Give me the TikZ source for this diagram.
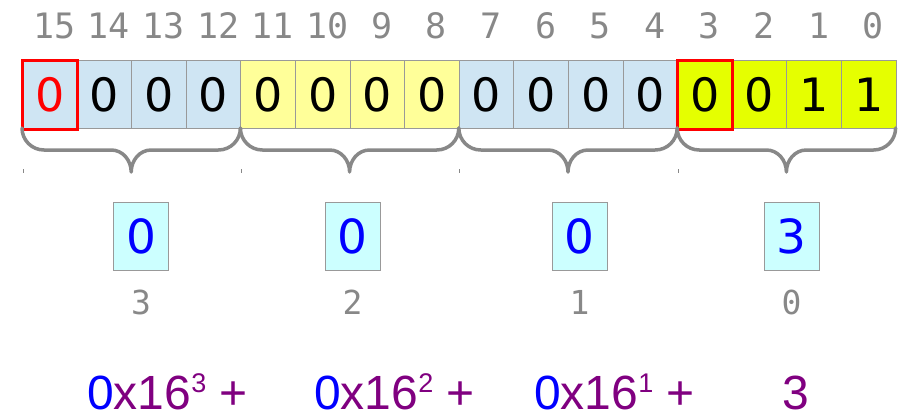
\documentclass[tikz,border=0pt]{standalone}
\usepackage{fontspec}
\setmainfont{Liberation Sans}
\newfontfamily\monofnt{DejaVu Sans Mono}
\newfontfamily\dvfnt{DejaVu Sans}
\definecolor{cellblue}{HTML}{CFE5F3}
\definecolor{cellyel}{HTML}{FFFF99}
\definecolor{cellgrn}{HTML}{E5FF00}
\definecolor{hexbox}{HTML}{CCFFFF}
\definecolor{lblgray}{HTML}{888888}
\definecolor{bordergray}{HTML}{999999}
\definecolor{purp}{HTML}{800080}
\tikzset{
  cellbox/.style={draw=bordergray, line width=1pt, minimum width=54.6pt, minimum height=68pt, inner sep=0pt, anchor=north west,
    font=\dvfnt\fontsize{46}{50}\selectfont},
  bitnum/.style={text=lblgray, inner sep=0pt, anchor=base, font=\monofnt\fontsize{35}{40}\selectfont},
  hexcell/.style={draw=bordergray, line width=1pt, fill=hexbox, minimum width=55pt, minimum height=68pt, inner sep=0pt,
    text=blue, font=\dvfnt\fontsize{47}{50}\selectfont},
  poslbl/.style={text=lblgray, inner sep=0pt, anchor=base, font=\monofnt\fontsize{33}{40}\selectfont},
  formula/.style={text=purp, inner sep=0pt, anchor=base west, font=\fontsize{48}{56}\selectfont},
  redmark/.style={draw=red, line width=3pt},
  bracepath/.style={draw=lblgray, line width=3.5pt, line cap=round, line join=round},
  tickmark/.style={draw=lblgray, line width=1pt}
}
\newcommand{\supthree}[1]{\raisebox{17pt}{\fontsize{27}{30}\selectfont #1}}
\begin{document}
\begin{tikzpicture}[x=1pt,y=-1pt]
\useasboundingbox (0,0) rectangle (910,415);
% cells
\foreach \i/\v/\c/\t in {0/0/cellblue/red,1/0/cellblue/black,2/0/cellblue/black,3/0/cellblue/black,
  4/0/cellyel/black,5/0/cellyel/black,6/0/cellyel/black,7/0/cellyel/black,
  8/0/cellblue/black,9/0/cellblue/black,10/0/cellblue/black,11/0/cellblue/black,
  12/0/cellgrn/black,13/0/cellgrn/black,14/1/cellgrn/black,15/1/cellgrn/black}{
  \node[cellbox, fill=\c, text=\t] (c\i) at ({22+\i*54.6},60) {\v};
  \pgfmathtruncatemacro{\bit}{15-\i}
  \node[bitnum] (b\i) at ({22+(\i+0.5)*54.6+5},38) {\bit};
}
% red highlight boxes
\draw[redmark] (c0.north west) rectangle (c0.south east);
\draw[redmark] (c12.north west) rectangle (c12.south east);
% braces
\foreach \g in {0,1,2,3}{
  \pgfmathsetmacro{\L}{22+\g*4*54.6}
  \pgfmathsetmacro{\R}{\L+4*54.6}
  \pgfmathsetmacro{\M}{(\L+\R)/2}
  \draw[bracepath] (\L,128) to[out=-90,in=180] (\L+22,150) -- (\M-20,150)
    to[out=0,in=90] (\M,172) to[out=90,in=180] (\M+20,150) -- (\R-22,150)
    to[out=0,in=-90] (\R,128);
  \draw[tickmark] (\L+1,169) -- (\L+1,173);
}
% hex digits
\node[hexcell] (h3) at (141,236) {0};
\node[hexcell] (h2) at (352.5,236) {0};
\node[hexcell] (h1) at (579.5,236) {0};
\node[hexcell] (h0) at (791.5,236) {3};
\node[poslbl] (p3) at (141,314) {3};
\node[poslbl] (p2) at (352.5,314) {2};
\node[poslbl] (p1) at (579.5,314) {1};
\node[poslbl] (p0) at (791.5,314) {0};
% formula
\node[formula] (f3) at (87,409) {{\color{blue}0}x16\supthree{3} +};
\node[formula] (f2) at (314,409) {{\color{blue}0}x16\supthree{2} +};
\node[formula] (f1) at (534,409) {{\color{blue}0}x16\supthree{1} +};
\node[formula, anchor=base] (f0) at (796,409) {3};
\end{tikzpicture}
\end{document}
